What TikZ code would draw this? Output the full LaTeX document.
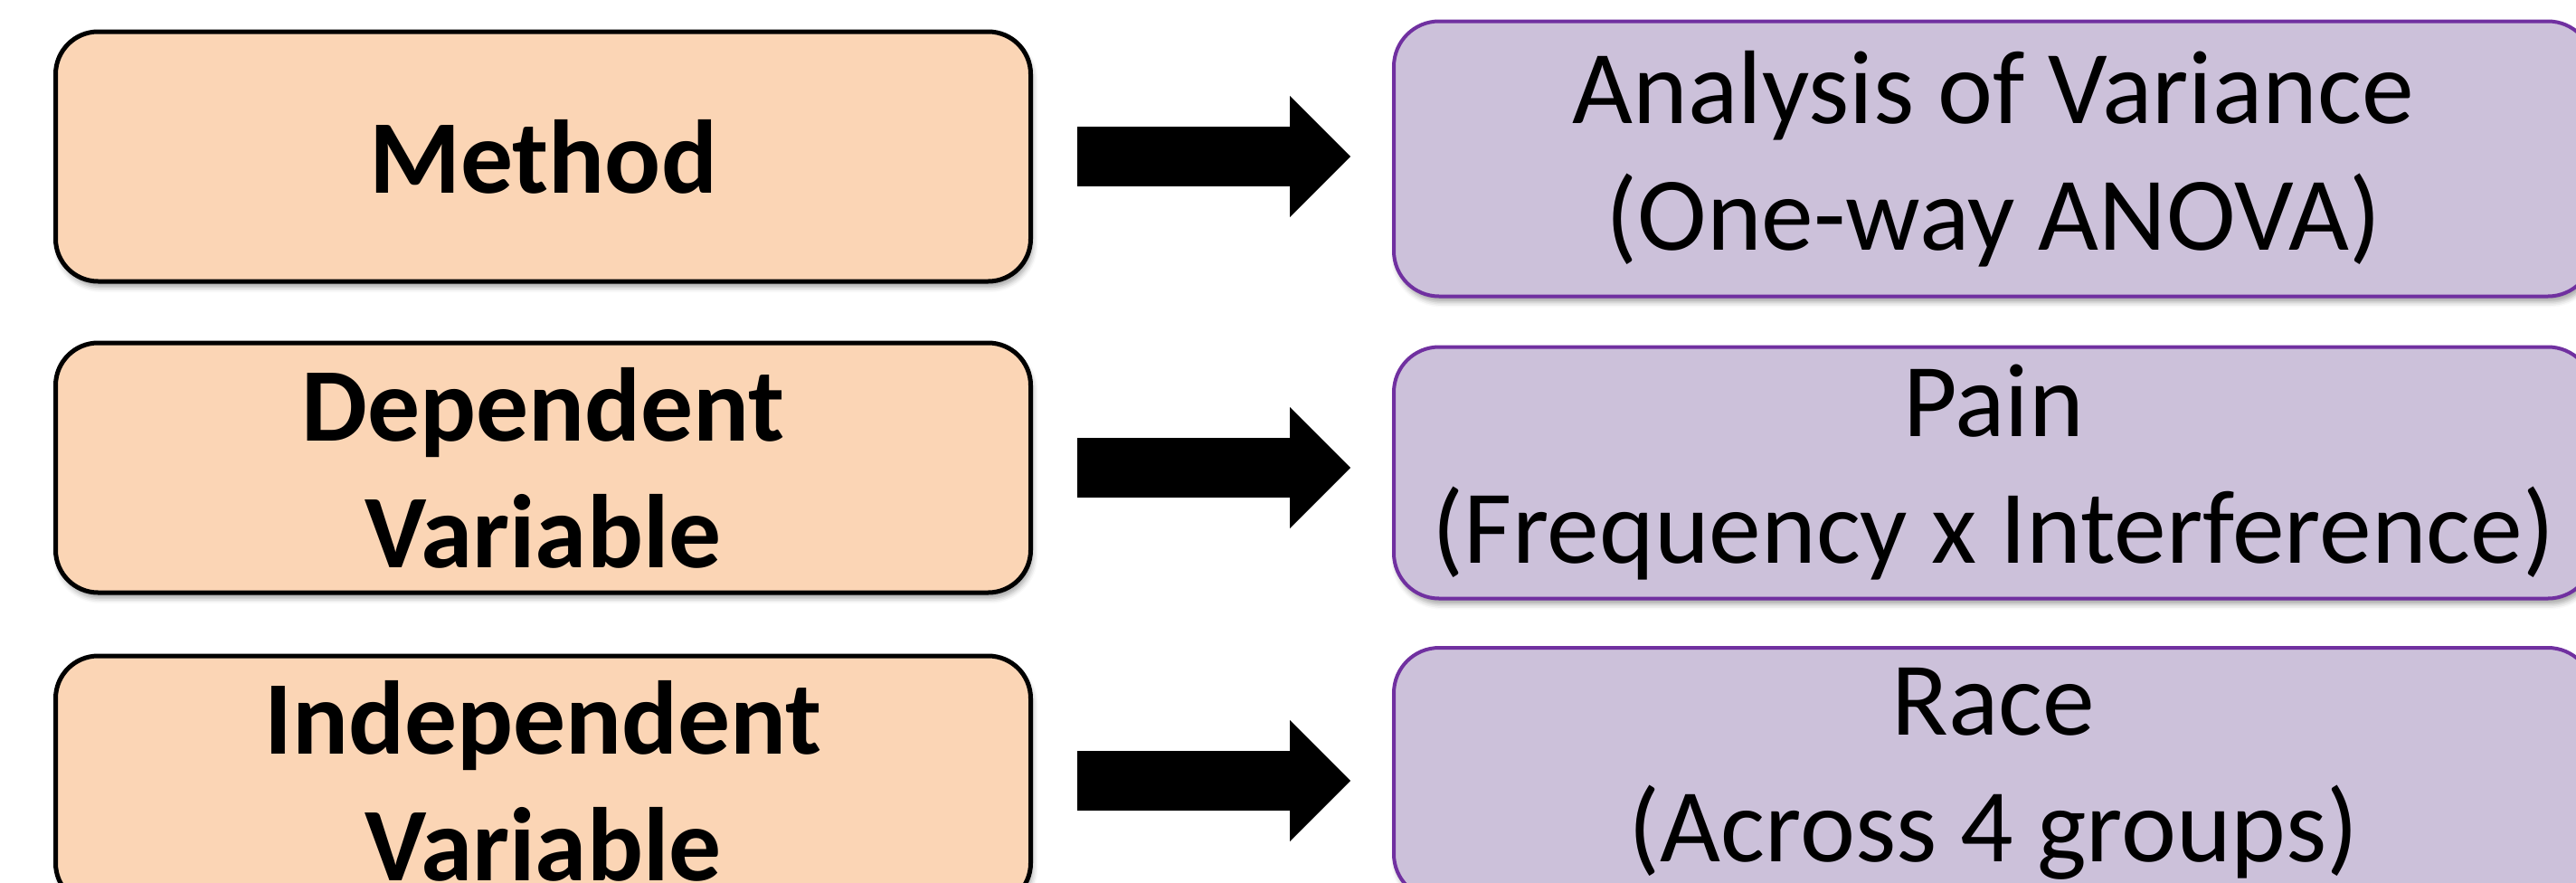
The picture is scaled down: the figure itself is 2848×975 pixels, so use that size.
\documentclass[tikz,border=0pt]{standalone}
\usepackage{fontspec}
\setmainfont{Carlito}
\usetikzlibrary{arrows.meta,shadows.blur}
\definecolor{peach}{HTML}{FBD5B5}
\definecolor{lavender}{HTML}{CCC1DA}
\definecolor{plum}{HTML}{7030A0}
\tikzset{
  boxshadow/.style={blur shadow={shadow xshift=0.6pt, shadow yshift=-1.6pt, shadow blur radius=1.4pt, shadow opacity=35}},
  leftbox/.style={draw=black, line width=1.25pt, fill=peach, rounded corners=11.75pt,
    minimum width=269.5pt, minimum height=69pt, inner sep=0pt, align=center,
    font=\fontsize{28.9pt}{35pt}\selectfont\bfseries, boxshadow},
  rightbox/.style={draw=plum, line width=1pt, fill=lavender, rounded corners=12.5pt,
    minimum width=331.5pt, inner sep=0pt, align=center,
    font=\fontsize{28.9pt}{35pt}\selectfont, boxshadow},
  bigarrow/.style={line width=16.5pt, -{Triangle[length=16.75pt,width=33.5pt,line width=0pt]},
    shorten <=12.25pt, shorten >=11.5pt}
}
\begin{document}
\begin{tikzpicture}[x=0.25pt,y=-0.25pt]
	\useasboundingbox (0,0) rectangle (2848,975);
	\clip (0,0) rectangle (2848,975);
	% Left column
	\node[leftbox] (meth) at (600.5,173) {Method};
	\node[leftbox] (dep) at (600.5,517) {Dependent\\Variable};
	\node[leftbox] (indep) at (600.5,863) {Independent\\Variable};
	% Right column
	\node[rightbox, minimum height=76pt] (anova) at (2204,175.5) {Analysis of Variance\\(One-way ANOVA)};
	\node[rightbox, minimum height=69.5pt] (pain) at (2204,522.5) {Pain\\(Frequency x Interference)};
	\node[rightbox, minimum height=69.5pt] (race) at (2204,855) {Race\\(Across 4 groups)};
	% Arrows
	\draw[bigarrow] (meth.east) -- (meth.east -| anova.west);
	\draw[bigarrow] (dep.east) -- (dep.east -| pain.west);
	\draw[bigarrow] (indep.east) -- (indep.east -| race.west);
\end{tikzpicture}
\end{document}
